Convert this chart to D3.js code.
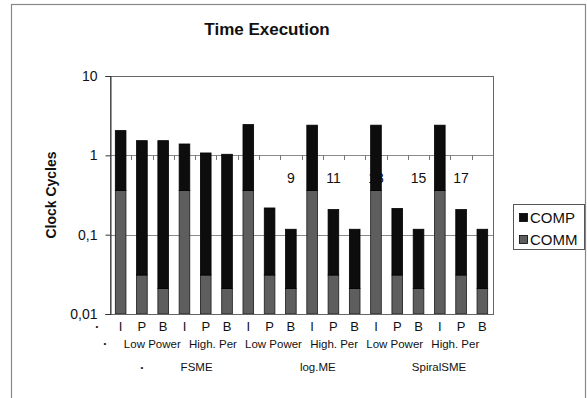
<!DOCTYPE html>
<html>
<head>
<meta charset="utf-8">
<script src="https://cdn.jsdelivr.net/npm/d3@7"></script>
<style>
  body { margin: 0; background: #fff; }
  text { font-family: "Liberation Sans", Arial, sans-serif; fill: #111; }
</style>
</head>
<body>
<div id="chart"></div>
<script>
// frame / pic types per bar
const frameTypes = ['I', 'P', 'B', 'I', 'P', 'B', 'I', 'P', 'B', 'I', 'P', 'B', 'I', 'P', 'B', 'I', 'P', 'B'];
const modes = ['Low Power', 'High. Per', 'Low Power', 'High. Per', 'Low Power', 'High. Per'];
const methods = ['FSME', 'log.ME', 'SpiralSME'];
const seriesNames = ['COMP', 'COMM'];
// clock cycles (log scale)
const commValues = [0.36, 0.031, 0.021, 0.36, 0.031, 0.021, 0.36, 0.031, 0.021,
                    0.36, 0.031, 0.021, 0.36, 0.031, 0.021, 0.36, 0.031, 0.021];
const compValues = [1.69, 1.50, 1.51, 1.03, 1.04, 1.01, 2.08, 0.186, 0.096,
                    2.04, 0.176, 0.096, 2.04, 0.183, 0.096, 2.04, 0.176, 0.096];
const yTicks = [10, 1, 0.1, 0.01];
const yTickLabels = ['10', '1', '0,1', '0,01'];

const width = 587, height = 398;
const plot = { left: 110, right: 493, top: 76, bottom: 314 };

const svg = d3.select('#chart').append('svg')
  .attr('width', width)
  .attr('height', height);

// outer frame (runs off the right/bottom of the picture)
svg.append('rect')
  .attr('x', 11.5).attr('y', 4.5)
  .attr('width', 574).attr('height', 420)
  .attr('fill', 'none').attr('stroke', '#888').attr('stroke-width', 1.2);

svg.append('text')
  .attr('x', 267).attr('y', 35)
  .attr('text-anchor', 'middle')
  .attr('font-size', 17).attr('font-weight', 'bold')
  .text('Time Execution');

const x = d3.scaleBand()
  .domain(d3.range(frameTypes.length))
  .range([plot.left, plot.right])
  .paddingInner(0.5)
  .paddingOuter(0.25);

const y = d3.scaleLog()
  .domain([0.01, 10])
  .range([plot.bottom, plot.top]);

// gridlines
svg.selectAll('.grid')
  .data([1, 0.1])
  .join('line')
  .attr('x1', plot.left).attr('x2', plot.right)
  .attr('y1', d => Math.round(y(d)) + 0.5).attr('y2', d => Math.round(y(d)) + 0.5)
  .attr('stroke', '#8a8a8a');

// category ticks hanging under the "1" line
const step = x.step();
svg.selectAll('.ctick')
  .data(d3.range(1, frameTypes.length))
  .join('line')
  .attr('x1', i => Math.round(plot.left + step * i) + 0.5)
  .attr('x2', i => Math.round(plot.left + step * i) + 0.5)
  .attr('y1', Math.round(y(1))).attr('y2', Math.round(y(1)) + 5)
  .attr('stroke', '#777');

// numbered category labels (mostly hidden behind the bars)
svg.selectAll('.num')
  .data(d3.range(0, frameTypes.length, 2))
  .join('text')
  .attr('x', i => x(i) + x.bandwidth() / 2)
  .attr('y', y(1) + 28)
  .attr('text-anchor', 'middle')
  .attr('font-size', 14)
  .text(i => i + 1);

// stacked bars
const bars = svg.append('g');
frameTypes.forEach((t, i) => {
  const comm = commValues[i];
  const total = comm + compValues[i];
  bars.append('rect')
    .attr('x', x(i)).attr('width', x.bandwidth())
    .attr('y', y(comm)).attr('height', y(0.01) - y(comm))
    .attr('fill', '#5e5e5e').attr('stroke', '#1a1a1a').attr('stroke-width', 0.8);
  bars.append('rect')
    .attr('x', x(i)).attr('width', x.bandwidth())
    .attr('y', y(total)).attr('height', y(comm) - y(total))
    .attr('fill', '#0d0d0d').attr('stroke', '#000').attr('stroke-width', 0.8);
});

// plot border
svg.append('rect')
  .attr('x', plot.left + 0.5).attr('y', plot.top + 0.5)
  .attr('width', plot.right - plot.left).attr('height', plot.bottom - plot.top)
  .attr('fill', 'none').attr('stroke', '#666');

// y axis
const yAxis = d3.axisLeft(y)
  .tickValues(yTicks)
  .tickFormat((d, i) => yTickLabels[i])
  .tickSize(5)
  .tickPadding(8);
const yg = svg.append('g')
  .attr('transform', `translate(${plot.left + 0.5},0)`)
  .call(yAxis);
yg.select('.domain').attr('stroke', '#333');
yg.selectAll('.tick line').attr('stroke', '#333');
yg.selectAll('.tick text')
  .attr('font-size', 14)
  .attr('font-family', '"Liberation Sans", Arial, sans-serif')
  .attr('fill', '#111');

svg.append('text')
  .attr('transform', `translate(56,${(plot.top + plot.bottom) / 2}) rotate(-90)`)
  .attr('text-anchor', 'middle')
  .attr('font-size', 14).attr('font-weight', 'bold')
  .text('Clock Cycles');

// x labels: level 1 (I/P/B)
svg.selectAll('.lvl1')
  .data(frameTypes)
  .join('text')
  .attr('x', (d, i) => x(i) + x.bandwidth() / 2)
  .attr('y', 331)
  .attr('text-anchor', 'middle')
  .attr('font-size', 13)
  .text(d => d);

// level 2 and 3 are laid out on a slightly narrower pitch, as in the original
const lvl2X = d3.scaleLinear().domain([0, frameTypes.length]).range([122, 122 + 20.2 * frameTypes.length]);
const lvl3X = d3.scaleLinear().domain([0, frameTypes.length]).range([136, 136 + 20.2 * frameTypes.length]);

svg.selectAll('.lvl2')
  .data(modes)
  .join('text')
  .attr('x', (d, i) => lvl2X(i * 3 + 1.5))
  .attr('y', 348)
  .attr('text-anchor', 'middle')
  .attr('font-size', 11.5)
  .text(d => d);

svg.selectAll('.lvl3')
  .data(methods)
  .join('text')
  .attr('x', (d, i) => lvl3X(i * 6 + 3))
  .attr('y', 371)
  .attr('text-anchor', 'middle')
  .attr('font-size', 11.5)
  .text(d => d);

// empty leading labels show up as bullets
[[97, 329], [105, 346], [142, 370]].forEach(([bx, by]) => {
  svg.append('text')
    .attr('x', bx).attr('y', by)
    .attr('text-anchor', 'middle')
    .attr('font-size', 8)
    .text('\u2022');
});

// legend
const legend = svg.append('g').attr('transform', 'translate(513,204)');
legend.append('rect')
  .attr('x', 0.5).attr('y', 0.5)
  .attr('width', 71).attr('height', 45)
  .attr('fill', '#fff').attr('stroke', '#555');
const swatch = { COMP: '#0d0d0d', COMM: '#5e5e5e' };
seriesNames.forEach((s, i) => {
  legend.append('rect')
    .attr('x', 6.5).attr('y', 9.5 + i * 22)
    .attr('width', 8).attr('height', 8)
    .attr('fill', swatch[s]).attr('stroke', '#000').attr('stroke-width', 0.8);
  legend.append('text')
    .attr('x', 17).attr('y', 19 + i * 22)
    .attr('font-size', 15)
    .text(s);
});
</script>
</body>
</html>
